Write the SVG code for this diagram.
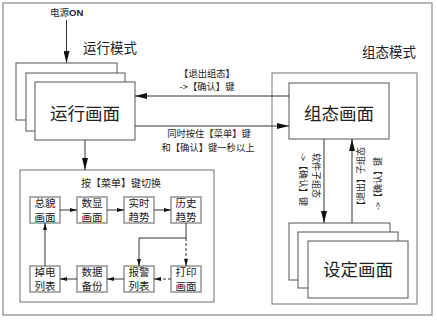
<svg xmlns="http://www.w3.org/2000/svg" width="437" height="320" viewBox="0 0 437 320">
<style>
text{font-family:"Noto Sans CJK SC","Liberation Sans",sans-serif;fill:#222;}
.frame{fill:none;stroke:#888;stroke-width:1.2;}
.box{fill:#fff;stroke:#555;stroke-width:1;}
.sb{fill:#fff;stroke:#999;stroke-width:1.6;}
.big{font-size:17.5px;text-anchor:middle;}
.mode{font-size:13.5px;text-anchor:middle;}
.lbl{font-size:9.3px;text-anchor:middle;}
.v{font-size:9px;}
.st{font-size:10.5px;text-anchor:middle;}
.ln{fill:none;stroke:#333;stroke-width:1;}
.dash{stroke-dasharray:3,2;}
</style>
<defs>
<marker id="ah" markerWidth="12" markerHeight="6" refX="12" refY="3" orient="auto" markerUnits="userSpaceOnUse"><path d="M0,0 L12,3 L0,6 z" fill="#111"/></marker>
<marker id="as" markerWidth="7" markerHeight="4" refX="7" refY="2" orient="auto" markerUnits="userSpaceOnUse"><path d="M0,0 L7,2 L0,4 z" fill="#111"/></marker>
</defs>
<rect width="437" height="320" fill="#fff"/>
<rect class="frame" x="3" y="3" width="429" height="312"/>
<g id="power"><text x="50" y="15.5" style="font-size:9.5px">电源<tspan font-weight="bold" font-family="Liberation Sans, sans-serif">ON</tspan></text></g>
<g id="run-mode"><text class="mode" x="110" y="53">运行模式</text></g>
<g id="run-screen">
<rect class="box" x="16" y="63" width="101" height="57"/>
<rect class="box" x="26" y="73" width="99" height="58"/>
<rect class="box" x="35" y="82" width="100" height="58"/>
<text class="big" x="85" y="119.5">运行画面</text>
</g>
<g id="config-mode">
<rect class="frame" x="272" y="73" width="145" height="231"/>
<text class="mode" x="389" y="57">组态模式</text>
</g>
<g id="config-screen">
<rect class="box" x="289" y="83" width="100" height="56"/>
<text class="big" x="339" y="119.5">组态画面</text>
</g>
<g id="setting-screen">
<rect class="box" x="289" y="223" width="101" height="57"/>
<rect class="box" x="298" y="232" width="100" height="56"/>
<rect class="box" x="308" y="241" width="100" height="57"/>
<text class="big" x="358" y="276">设定画面</text>
</g>
<g id="menu">
<rect class="frame" x="20" y="170" width="194" height="132"/>
<text x="121" y="186.5" style="font-size:10px;text-anchor:middle">按【菜单】键切换</text>
</g>
<g id="overview"><rect class="sb" x="30" y="197" width="30" height="26"/><text class="st" x="45" y="207">总貌</text><text class="st" x="45" y="221">画面</text></g>
<g id="digital"><rect class="sb" x="77" y="197" width="30" height="26"/><text class="st" x="92" y="207">数显</text><text class="st" x="92" y="221">画面</text></g>
<g id="realtime"><rect class="sb" x="124" y="197" width="30" height="26"/><text class="st" x="139" y="207">实时</text><text class="st" x="139" y="221">趋势</text></g>
<g id="history"><rect class="sb" x="171" y="197" width="30" height="26"/><text class="st" x="186" y="207">历史</text><text class="st" x="186" y="221">趋势</text></g>
<g id="poweroff"><rect class="sb" x="30" y="266" width="30" height="26"/><text class="st" x="45" y="276">掉电</text><text class="st" x="45" y="290">列表</text></g>
<g id="backup"><rect class="sb" x="77" y="266" width="30" height="26"/><text class="st" x="92" y="276">数据</text><text class="st" x="92" y="290">备份</text></g>
<g id="alarm"><rect class="sb" x="124" y="266" width="30" height="26"/><text class="st" x="139" y="276">报警</text><text class="st" x="139" y="290">列表</text></g>
<g id="print"><rect class="sb" x="171" y="266" width="30" height="26"/><text class="st" x="186" y="276">打印</text><text class="st" x="186" y="290">画面</text></g>
<g id="connectors">
<line class="ln" x1="66.5" y1="20" x2="66.5" y2="63" marker-end="url(#ah)"/>
<line class="ln" x1="289" y1="96" x2="135" y2="96" marker-end="url(#ah)"/>
<line class="ln" x1="135" y1="126" x2="289" y2="126" marker-end="url(#ah)"/>
<line class="ln" x1="85" y1="140" x2="85" y2="170" marker-end="url(#ah)"/>
<line class="ln" x1="324" y1="139" x2="324" y2="223" marker-end="url(#ah)"/>
<line class="ln" x1="352" y1="223" x2="352" y2="139" marker-end="url(#ah)"/>
<line class="ln" x1="60" y1="210" x2="77" y2="210" marker-end="url(#as)"/>
<line class="ln" x1="107" y1="210" x2="124" y2="210" marker-end="url(#as)"/>
<line class="ln" x1="154" y1="210" x2="171" y2="210" marker-end="url(#as)"/>
<polyline class="ln" points="186,223 186,238 139,238 139,266" marker-end="url(#as)"/>
<line class="ln dash" x1="186" y1="238" x2="186" y2="266" marker-end="url(#as)"/>
<line class="ln dash" x1="171" y1="279" x2="154" y2="279" marker-end="url(#as)"/>
<line class="ln" x1="124" y1="279" x2="107" y2="279" marker-end="url(#as)"/>
<line class="ln" x1="77" y1="279" x2="60" y2="279" marker-end="url(#as)"/>
<line class="ln" x1="45" y1="266" x2="45" y2="223" marker-end="url(#as)"/>
</g>
<g id="labels">
<text class="lbl" x="207" y="76.5">【退出组态】</text>
<text class="lbl" x="207" y="89.5">->【确认】键</text>
<text class="lbl" x="209" y="136.5">同时按住【菜单】键</text>
<text class="lbl" x="208" y="150.5">和【确认】键一秒以上</text>
<text class="v" transform="translate(312.5,153) rotate(90)">软件子组态</text>
<text class="v" transform="translate(299.5,153) rotate(90)">->【确认】键</text>
<text class="v" transform="translate(363.5,210) rotate(-90)">【退出】子组态</text>
<text class="v" transform="translate(380.5,210) rotate(-90)">->【确认】键</text>
</g>
</svg>
